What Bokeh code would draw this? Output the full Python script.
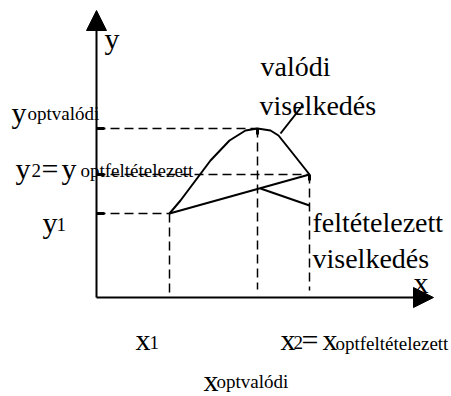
from bokeh.plotting import figure
from bokeh.models import Range1d, Arrow, NormalHead
from bokeh.core.properties import value
from bokeh.embed import file_html
from bokeh.resources import INLINE

# --- data (diagram units, origin at axis crossing) ---
real_x = [73, 84, 99, 114, 133, 149, 161, 174, 182, 194, 213]
real_y = [84, 97, 117, 137, 157, 167, 169, 167, 162, 147, 123]
assumed_x = [73, 213]
assumed_y = [84, 123]
x1, x_opt, x2 = 73, 161, 213
y1, y_opt, y2 = 84, 169, 123
x_axis_end = 337
y_axis_end = 287

# leader lines
lead_real = ([184, 206], [164, 192])
lead_assumed = ([164, 213], [109, 92])

FONT = "Liberation Serif"
BIG = "30px"
MID = "28px"
SUB = "19px"

p = figure(width=451, height=396, output_backend="svg", toolbar_location=None,
           x_range=Range1d(-96, 355), y_range=Range1d(-99, 297),
           x_axis_type=None, y_axis_type=None, min_border=0)
p.min_border_left = p.min_border_right = p.min_border_top = p.min_border_bottom = 0
p.grid.visible = False
p.outline_line_color = None
p.background_fill_color = "white"
p.border_fill_color = "white"

# axes with arrow heads
p.add_layout(Arrow(end=NormalHead(size=20, fill_color="black", line_color="black"),
                   x_start=0, y_start=0, x_end=0, y_end=y_axis_end,
                   line_width=2, line_color="black"))
p.add_layout(Arrow(end=NormalHead(size=20, fill_color="black", line_color="black"),
                   x_start=0, y_start=0, x_end=x_axis_end, y_end=0,
                   line_width=2, line_color="black"))

dash = dict(line_color="black", line_width=1.5, line_dash="9 5")
# horizontal guides
p.line([0, x_opt], [y_opt, y_opt], **dash)
p.line([0, x2], [y2, y2], **dash)
p.line([0, x1], [y1, y1], **dash)
# vertical guides
p.line([x1, x1], [y1, 0], **dash)
p.line([x_opt, x_opt], [y_opt, 8], **dash)
p.line([x2, x2], [y2, 7], **dash)

# small solid ticks where the guides start
p.line([0, 8], [y_opt, y_opt], line_color="black", line_width=3)
p.line([0, 8], [y2, y2], line_color="black", line_width=3)
p.line([0, 8], [y1, y1], line_color="black", line_width=3)
p.line([x_opt, x_opt], [y_opt, y_opt - 6], line_color="black", line_width=3)
p.line([x2, x2], [y2, y2 - 6], line_color="black", line_width=3)

# curves
p.line(real_x, real_y, line_color="black", line_width=2)
p.line(assumed_x, assumed_y, line_color="black", line_width=2)
p.line(*lead_real, line_color="black", line_width=2)
p.line(*lead_assumed, line_color="black", line_width=2)

# texts: (text, x, y, size)
labels = [
    ("y", 8, 259, BIG),
    ("y", -85, 185, BIG), ("optvalódi", -69, 184, SUB),
    ("y", -81, 129, BIG), ("2", -65, 127, SUB), ("=", -55, 129, BIG),
    ("y", -35, 129, BIG), ("optfeltételezett", -16, 127, SUB),
    ("y", -54, 75, BIG), ("1", -40, 73, SUB),
    ("x", 39, -42, BIG), ("1", 53, -45, SUB),
    ("x", 184, -42, BIG), ("2", 197, -45, SUB), ("=", 205, -42, BIG),
    ("x", 226, -42, BIG), ("optfeltételezett", 239, -46, SUB),
    ("x", 107, -83, BIG), ("optvalódi", 120, -84, SUB),
    ("x", 317, 15, BIG),
    ("valódi", 164, 231, MID),
    ("viselkedés", 163, 192, MID),
    ("feltételezett", 216, 75, MID),
    ("viselkedés", 216, 39, MID),
]
for t, x, y, s in labels:
    p.text(x=[x], y=[y], text=[t], text_font=value(FONT), text_font_size=s,
           text_color="black", text_align="left", text_baseline="alphabetic")

open("out.html", "w").write(file_html(p, INLINE))
